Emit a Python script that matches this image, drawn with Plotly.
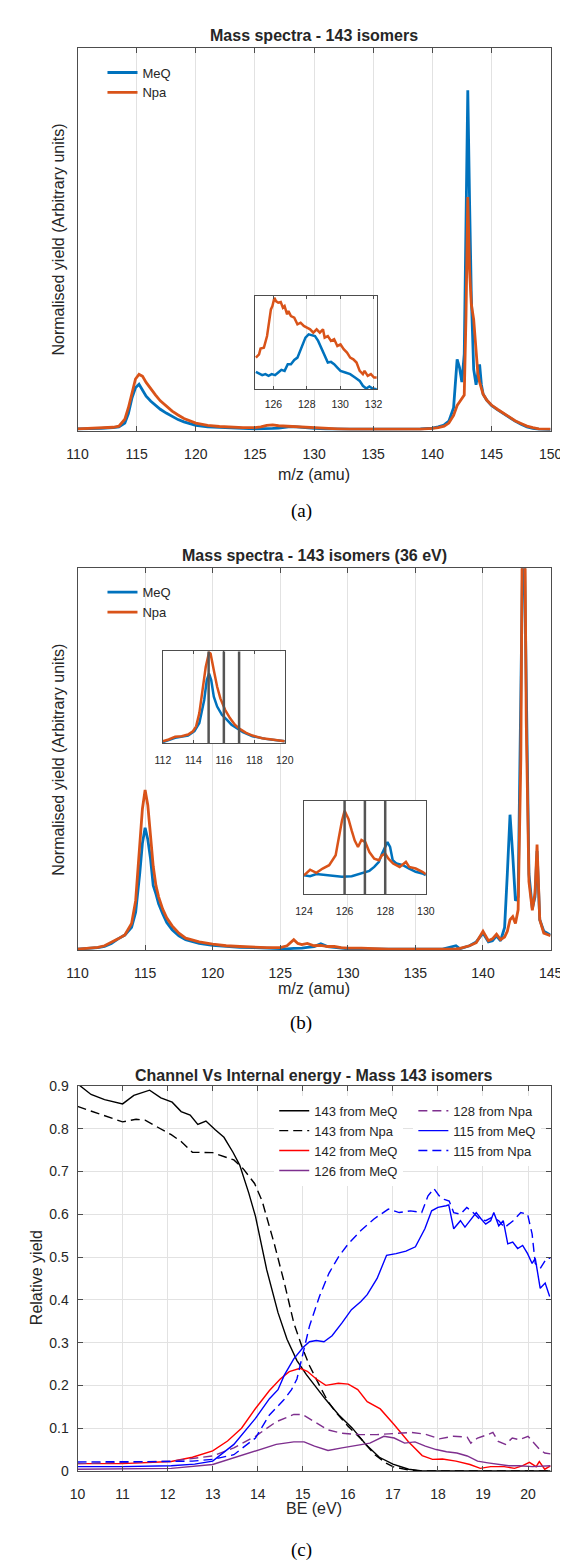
import plotly.graph_objects as go

# ---------------- data: panel (a) ----------------
a_mz = [110, 111, 112, 113, 113.5, 114, 114.3, 114.6, 114.9, 115.2, 115.5, 115.8, 116.2, 116.6,
        117, 117.5, 118, 118.5, 119, 120, 121, 122, 123, 124, 125, 125.5, 126, 126.5, 127,
        127.5, 128, 128.5, 129, 130, 131, 132, 133, 134, 135, 136, 137, 138, 139, 140,
        140.5, 141, 141.4, 141.8, 142.0, 142.1, 142.3, 142.5, 142.7, 142.85, 143.0, 143.15,
        143.3, 143.5, 143.7, 143.85, 144.0, 144.15, 144.3, 144.6, 145, 145.5, 146, 146.5,
        147, 147.5, 148, 148.5, 149, 150]
a_meq = [0.005, 0.005, 0.006, 0.008, 0.01, 0.02, 0.045, 0.085, 0.112, 0.121, 0.104, 0.09, 0.077,
         0.066, 0.056, 0.046, 0.037, 0.029, 0.023, 0.014, 0.01, 0.008, 0.007, 0.006, 0.005,
         0.005, 0.005, 0.006, 0.007, 0.009, 0.011, 0.01, 0.008, 0.006, 0.005, 0.004, 0.004,
         0.004, 0.004, 0.004, 0.004, 0.004, 0.005, 0.007, 0.01, 0.015, 0.025, 0.06, 0.15,
         0.186, 0.165, 0.127, 0.2, 0.6, 0.889, 0.6, 0.35, 0.16, 0.12, 0.15, 0.173, 0.12,
         0.095, 0.08, 0.066, 0.055, 0.045, 0.034, 0.025, 0.017, 0.01, 0.006, 0.004, 0.003]
a_npa = [0.005, 0.006, 0.007, 0.009, 0.012, 0.03, 0.06, 0.1, 0.135, 0.147, 0.142, 0.126, 0.108,
         0.093, 0.078, 0.064, 0.051, 0.041, 0.032, 0.02, 0.014, 0.011, 0.009, 0.008, 0.008,
         0.01, 0.014, 0.015, 0.013, 0.012, 0.011, 0.01, 0.009, 0.008, 0.006, 0.005, 0.004,
         0.004, 0.004, 0.004, 0.004, 0.004, 0.004, 0.006, 0.008, 0.012, 0.02, 0.04, 0.058,
         0.066, 0.075, 0.083, 0.093, 0.3, 0.61, 0.42, 0.33, 0.29, 0.2, 0.15, 0.127, 0.11,
         0.095, 0.08, 0.067, 0.056, 0.046, 0.035, 0.026, 0.019, 0.012, 0.008, 0.005, 0.004]

# inset of panel (a)
ia_mz_npa = [124.95, 125.14, 125.23, 125.43, 125.62, 125.75, 125.85, 125.94, 126.06, 126.15,
             126.29, 126.44, 126.57, 126.67, 126.82, 126.9, 127.05, 127.25, 127.44, 127.63,
             127.82, 128.01, 128.2, 128.39, 128.59, 128.78, 128.97, 129.07, 129.26, 129.45,
             129.64, 129.83, 130.02, 130.21, 130.41, 130.6, 130.79, 130.98, 131.17, 131.36,
             131.46, 131.65, 131.84, 132.03, 132.19]
ia_npa = [0.339, 0.375, 0.436, 0.446, 0.571, 0.75, 0.857, 0.893, 0.982, 0.946, 0.929, 0.936,
          0.875, 0.893, 0.804, 0.839, 0.786, 0.768, 0.696, 0.714, 0.679, 0.661, 0.643, 0.607,
          0.643, 0.607, 0.643, 0.554, 0.571, 0.518, 0.536, 0.464, 0.482, 0.429, 0.393, 0.339,
          0.321, 0.286, 0.196, 0.161, 0.196, 0.143, 0.161, 0.125, 0.125]
ia_mz_meq = [124.95, 125.14, 125.33, 125.52, 125.71, 125.9, 126.1, 126.29, 126.48, 126.67,
             126.86, 127.05, 127.25, 127.44, 127.63, 127.82, 127.92, 128.11, 128.3, 128.49,
             128.68, 128.87, 129.07, 129.26, 129.45, 129.64, 129.83, 130.02, 130.31, 130.6,
             130.89, 131.17, 131.36, 131.56, 131.75, 131.94, 132.19]
ia_meq = [0.186, 0.171, 0.15, 0.161, 0.143, 0.161, 0.15, 0.179, 0.207, 0.196, 0.268, 0.268,
          0.314, 0.339, 0.429, 0.518, 0.554, 0.589, 0.579, 0.571, 0.518, 0.446, 0.357, 0.286,
          0.293, 0.268, 0.232, 0.196, 0.179, 0.161, 0.125, 0.089, 0.036, 0.007, 0.029, 0.007, 0.0]

# ---------------- data: panel (b) ----------------
b_mz = [110, 110.5, 111, 111.5, 112, 112.5, 113, 113.5, 114, 114.3, 114.6, 114.8, 115.0, 115.2,
        115.4, 115.6, 115.8, 116.0, 116.3, 116.6, 117, 117.5, 118, 118.5, 119, 120, 121, 122,
        123, 124, 125, 125.5, 126, 126.3, 126.6, 127, 127.5, 128, 128.5, 129, 129.5, 130, 131,
        132, 133, 134, 135, 136, 137, 138, 138.3, 139, 139.5, 140, 140.4, 140.7, 141, 141.3,
        141.6, 141.8, 142.0, 142.2, 142.4, 142.6, 142.8, 143.0, 143.2, 143.4, 143.65, 143.85,
        144.0, 144.2, 144.5, 145]
b_meq = [0.003, 0.004, 0.005, 0.007, 0.01, 0.018, 0.03, 0.04, 0.06, 0.1, 0.2, 0.28, 0.321, 0.29,
         0.24, 0.17, 0.148, 0.122, 0.096, 0.073, 0.054, 0.038, 0.028, 0.022, 0.018, 0.013, 0.01,
         0.008, 0.007, 0.006, 0.004, 0.004, 0.005, 0.005, 0.006, 0.008, 0.01, 0.017, 0.01,
         0.008, 0.006, 0.004, 0.004, 0.003, 0.003, 0.003, 0.003, 0.003, 0.003, 0.012, 0.004,
         0.012, 0.022, 0.045, 0.022, 0.025, 0.038, 0.025, 0.06, 0.2, 0.355, 0.25, 0.13, 0.14,
         0.7, 1.2, 0.7, 0.2, 0.11, 0.14, 0.26, 0.08, 0.05, 0.04]
b_npa = [0.003, 0.005, 0.006, 0.008, 0.012, 0.02, 0.03, 0.04, 0.07, 0.13, 0.26, 0.37, 0.42,
         0.38, 0.3, 0.22, 0.17, 0.14, 0.108, 0.085, 0.064, 0.045, 0.032, 0.026, 0.022, 0.016,
         0.012, 0.01, 0.008, 0.007, 0.007, 0.012, 0.028, 0.018, 0.015, 0.018, 0.012, 0.013,
         0.01, 0.01, 0.007, 0.006, 0.006, 0.004, 0.003, 0.003, 0.003, 0.003, 0.003, 0.004,
         0.005, 0.012, 0.02, 0.05, 0.025, 0.03, 0.042, 0.028, 0.035, 0.05, 0.08, 0.088, 0.07,
         0.106, 0.5, 1.6, 0.6, 0.18, 0.105, 0.15, 0.277, 0.08, 0.045, 0.038]

# inset 1 of panel (b)
ib1_mz_npa = [112.0, 112.38, 112.8, 113.23, 113.65, 113.97, 114.18, 114.39, 114.6, 114.81,
              115.03, 115.13, 115.34, 115.56, 115.77, 116.08, 116.4, 116.72, 117.04, 117.46,
              117.88, 118.52, 119.15, 120.0]
ib1_npa = [0.025, 0.043, 0.072, 0.079, 0.097, 0.133, 0.186, 0.33, 0.58, 0.83, 0.99, 0.975,
           0.796, 0.616, 0.49, 0.366, 0.276, 0.204, 0.158, 0.115, 0.086, 0.057, 0.043, 0.025]
ib1_mz_meq = [112.0, 112.8, 113.65, 114.07, 114.39, 114.71, 114.88, 115.03, 115.17, 115.34,
              115.56, 115.87, 116.19, 116.5, 116.83, 117.25, 117.88, 118.73, 120.0]
ib1_meq = [0.014, 0.061, 0.086, 0.133, 0.222, 0.473, 0.688, 0.76, 0.688, 0.509, 0.401, 0.312,
           0.258, 0.204, 0.168, 0.122, 0.079, 0.05, 0.025]
ib1_marks = [115, 116, 117]

# inset 2 of panel (b)
ib2_mz_npa = [124.0, 124.3, 124.61, 124.92, 125.24, 125.56, 125.72, 125.87, 126.0, 126.19,
              126.35, 126.5, 126.66, 126.83, 127.02, 127.22, 127.46, 127.69, 127.84, 128.0,
              128.16, 128.39, 128.71, 129.02, 129.18, 129.5, 129.83, 130.0]
ib2_npa = [0.2, 0.26, 0.227, 0.273, 0.309, 0.415, 0.61, 0.787, 0.894, 0.805, 0.68, 0.574, 0.504,
           0.58, 0.557, 0.45, 0.379, 0.362, 0.415, 0.433, 0.379, 0.326, 0.29, 0.344, 0.29,
           0.273, 0.238, 0.213]
ib2_mz_meq = [124.0, 124.3, 124.61, 125.24, 125.87, 126.35, 126.66, 126.98, 127.22, 127.46,
              127.69, 127.84, 128.0, 128.11, 128.24, 128.37, 128.56, 128.87, 129.18, 129.5,
              129.83, 130.0]
ib2_meq = [0.2, 0.19, 0.213, 0.195, 0.184, 0.19, 0.213, 0.238, 0.248, 0.29, 0.344, 0.433, 0.504,
           0.557, 0.504, 0.362, 0.326, 0.309, 0.273, 0.238, 0.22, 0.202]
ib2_marks = [126, 127, 128]

# ---------------- data: panel (c) ----------------
c_be_143_meq = [10.0, 10.3, 10.6, 11.0, 11.25, 11.6, 11.85, 12.1, 12.3, 12.5, 12.67, 12.85, 13.05,
                13.25, 13.45, 13.6, 13.8, 13.95, 14.2, 14.45, 14.65, 14.87, 15.08, 15.3, 15.5,
                15.8, 16.1, 16.4, 16.7, 17.0, 17.35, 17.65, 18.5, 19.5, 20.5]
c_143_meq = [0.905, 0.88, 0.868, 0.858, 0.878, 0.89, 0.872, 0.862, 0.84, 0.832, 0.81, 0.818, 0.798,
             0.78, 0.745, 0.715, 0.65, 0.595, 0.47, 0.37, 0.308, 0.258, 0.225, 0.195, 0.168,
             0.131, 0.1, 0.062, 0.032, 0.016, 0.004, 0.0, 0.0, 0.0, 0.0]
c_be_143_npa = [10.0, 10.45, 11.0, 11.3, 11.5, 11.77, 12.08, 12.3, 12.55, 13.0, 13.25, 13.47, 13.68,
                13.93, 14.1, 14.37, 14.59, 14.8, 15.0, 15.15, 15.37, 15.55, 15.72, 16.0, 16.3,
                16.6, 16.85, 17.0, 17.3, 17.6, 18.5, 19.5, 20.5]
c_143_npa = [0.852, 0.835, 0.816, 0.822, 0.82, 0.804, 0.786, 0.77, 0.745, 0.744, 0.735, 0.727,
             0.706, 0.672, 0.63, 0.53, 0.44, 0.346, 0.285, 0.246, 0.2, 0.164, 0.139, 0.105,
             0.074, 0.038, 0.018, 0.01, 0.003, 0.0, 0.0, 0.0, 0.0]
c_be_142_meq = [10.0, 11.0, 12.08, 12.55, 13.0, 13.33, 13.64, 13.95, 14.26, 14.5, 14.7, 14.94, 15.1,
                15.3, 15.51, 15.79, 16.01, 16.22, 16.43, 16.72, 17.03, 17.34, 17.65, 17.88, 18.1,
                18.4, 18.71, 18.94, 19.17, 19.47, 19.7, 19.87, 20.03, 20.18, 20.25, 20.37, 20.5]
c_142_meq = [0.017, 0.017, 0.022, 0.032, 0.047, 0.07, 0.1, 0.146, 0.188, 0.215, 0.232, 0.24, 0.233,
             0.215, 0.2, 0.205, 0.203, 0.19, 0.162, 0.145, 0.108, 0.069, 0.036, 0.027, 0.028,
             0.023, 0.015, 0.006, 0.01, 0.01, 0.006, 0.012, 0.02, 0.01, 0.022, 0.004, 0.012]
c_be_126_meq = [10.0, 12.08, 13.0, 13.47, 13.95, 14.41, 14.8, 15.03, 15.26, 15.56, 15.87, 16.18,
                16.49, 16.8, 17.03, 17.26, 17.49, 17.72, 17.96, 18.19, 18.42, 18.65, 18.88,
                19.11, 19.34, 19.57, 19.8, 20.1, 20.5]
c_126_meq = [0.004, 0.006, 0.015, 0.031, 0.046, 0.062, 0.068, 0.068, 0.058, 0.048, 0.054, 0.06,
             0.065, 0.081, 0.077, 0.065, 0.068, 0.058, 0.05, 0.045, 0.042, 0.035, 0.023, 0.019,
             0.015, 0.012, 0.012, 0.01, 0.012]
c_be_128_npa = [10.0, 12.08, 13.0, 13.47, 13.95, 14.41, 14.8, 14.99, 15.26, 15.56, 15.87, 16.26,
                16.64, 17.03, 17.42, 17.72, 18.03, 18.34, 18.65, 18.73, 18.88, 19.11, 19.22,
                19.34, 19.5, 19.65, 19.8, 20.0, 20.1, 20.26, 20.37, 20.5]
c_128_npa = [0.017, 0.023, 0.035, 0.054, 0.081, 0.115, 0.132, 0.132, 0.115, 0.096, 0.088, 0.085,
             0.085, 0.088, 0.09, 0.086, 0.075, 0.081, 0.079, 0.065, 0.077, 0.085, 0.09, 0.069,
             0.062, 0.077, 0.073, 0.081, 0.069, 0.05, 0.042, 0.04]
c_be_115_meq = [10.0, 11.0, 12.08, 12.6, 13.0, 13.47, 13.95, 14.26, 14.45, 14.59, 14.8, 15.01,
                15.15, 15.3, 15.47, 15.65, 15.87, 16.08, 16.29, 16.43, 16.65, 16.86, 17.07,
                17.29, 17.5, 17.71, 17.86, 18.0, 18.18, 18.24, 18.35, 18.5, 18.6, 18.74, 18.85,
                18.96, 19.06, 19.17, 19.24, 19.35, 19.45, 19.55, 19.66, 19.77, 19.88, 19.99,
                20.09, 20.16, 20.27, 20.38, 20.48]
c_115_meq = [0.01, 0.01, 0.012, 0.016, 0.023, 0.062, 0.123, 0.169, 0.19, 0.224, 0.262, 0.289,
             0.302, 0.305, 0.302, 0.316, 0.346, 0.377, 0.396, 0.412, 0.45, 0.504, 0.508, 0.514,
             0.524, 0.566, 0.608, 0.616, 0.62, 0.622, 0.566, 0.585, 0.57, 0.589, 0.604, 0.589,
             0.577, 0.585, 0.604, 0.573, 0.585, 0.531, 0.535, 0.52, 0.527, 0.508, 0.485, 0.497,
             0.427, 0.439, 0.408]
c_be_115_npa = [10.0, 11.0, 12.0, 12.55, 13.0, 13.47, 13.95, 14.26, 14.57, 14.75, 14.87, 15.01,
                15.15, 15.37, 15.58, 15.79, 16.01, 16.29, 16.58, 16.9, 17.14, 17.39, 17.64,
                17.78, 17.91, 18.03, 18.14, 18.25, 18.35, 18.5, 18.64, 18.78, 18.92, 19.06,
                19.2, 19.35, 19.48, 19.67, 19.84, 19.99, 20.09, 20.16, 20.27, 20.41, 20.5]
c_115_npa = [0.021, 0.021, 0.022, 0.023, 0.027, 0.038, 0.077, 0.131, 0.165, 0.19, 0.215, 0.277,
             0.339, 0.408, 0.462, 0.5, 0.531, 0.562, 0.589, 0.612, 0.604, 0.608, 0.604, 0.643,
             0.66, 0.643, 0.635, 0.631, 0.604, 0.6, 0.616, 0.604, 0.589, 0.585, 0.593, 0.585,
             0.569, 0.585, 0.604, 0.6, 0.554, 0.485, 0.473, 0.497, 0.497]

a_ticks = [110, 115, 120, 125, 130, 135, 140, 145, 150]
b_ticks = [110, 115, 120, 125, 130, 135, 140, 145]
c_xticks = [10, 11, 12, 13, 14, 15, 16, 17, 18, 19, 20]
c_yticks = [0, 0.1, 0.2, 0.3, 0.4, 0.5, 0.6, 0.7, 0.8, 0.9]
ia_ticks = [126, 128, 130, 132]
ib1_ticks = [112, 114, 116, 118, 120]
ib2_ticks = [124, 126, 128, 130]

# ---------------- styling ----------------
W, H = 568, 1562
MEQ, NPA = '#0072BD', '#D95319'
AXC = '#4d4d4d'
GRID = '#e2e2e2'
TXT = '#262626'
FONT = 'Liberation Sans, Arial, Helvetica, sans-serif'
SERIF = 'Liberation Serif, DejaVu Serif, serif'


def px(p):
    return p / W


def py(p):
    return 1 - p / H


def xaxis(dom, anchor, rng, ticks, size=14, grid=True, ticklen=5, standoff=10):
    return dict(domain=dom, anchor=anchor, range=rng, tickmode='array', tickvals=ticks,
                ticktext=[str(t) for t in ticks], showgrid=grid, gridcolor=GRID, gridwidth=1,
                zeroline=False, showline=True, linecolor=AXC, linewidth=1, mirror='ticks',
                ticks='inside', ticklen=ticklen, tickcolor=AXC, ticklabelstandoff=int(standoff),
                tickfont=dict(family=FONT, size=size, color=TXT))


def yaxis_plain(dom, anchor, rng):
    return dict(domain=dom, anchor=anchor, range=rng, showticklabels=False, showgrid=False,
                zeroline=False, showline=True, linecolor=AXC, linewidth=1, mirror=True, ticks='')


fig = go.Figure()

LW = 2.8
# panel (a)
fig.add_trace(go.Scatter(x=a_mz, y=a_meq, name='MeQ', mode='lines', line=dict(color=MEQ, width=LW),
                         xaxis='x', yaxis='y', legend='legend'))
fig.add_trace(go.Scatter(x=a_mz, y=a_npa, name='Npa', mode='lines', line=dict(color=NPA, width=LW),
                         xaxis='x', yaxis='y', legend='legend'))
# panel (b)
fig.add_trace(go.Scatter(x=b_mz, y=b_meq, name='MeQ', mode='lines', line=dict(color=MEQ, width=LW),
                         xaxis='x2', yaxis='y2', legend='legend2'))
fig.add_trace(go.Scatter(x=b_mz, y=b_npa, name='Npa', mode='lines', line=dict(color=NPA, width=LW),
                         xaxis='x2', yaxis='y2', legend='legend2'))
# panel (c)
cw = 1.4
dash = '9px,5px'
c_series = [
    (c_be_143_meq, c_143_meq, '143 from MeQ', '#000000', 'solid', 'legend3'),
    (c_be_143_npa, c_143_npa, '143 from Npa', '#000000', dash, 'legend3'),
    (c_be_142_meq, c_142_meq, '142 from MeQ', '#FF0000', 'solid', 'legend3'),
    (c_be_126_meq, c_126_meq, '126 from MeQ', '#7E2F8E', 'solid', 'legend3'),
    (c_be_128_npa, c_128_npa, '128 from Npa', '#7E2F8E', dash, 'legend4'),
    (c_be_115_meq, c_115_meq, '115 from MeQ', '#0000FF', 'solid', 'legend4'),
    (c_be_115_npa, c_115_npa, '115 from Npa', '#0000FF', dash, 'legend4'),
]
for xs, ys, nm, col, ds, lg in c_series:
    fig.add_trace(go.Scatter(x=xs, y=ys, name=nm, mode='lines',
                             line=dict(color=col, width=cw, dash=ds),
                             xaxis='x3', yaxis='y3', legend=lg))
# insets
IW = 2.5
fig.add_trace(go.Scatter(x=ia_mz_meq, y=ia_meq, mode='lines', line=dict(color=MEQ, width=IW),
                         xaxis='x4', yaxis='y4', showlegend=False))
fig.add_trace(go.Scatter(x=ia_mz_npa, y=ia_npa, mode='lines', line=dict(color=NPA, width=IW),
                         xaxis='x4', yaxis='y4', showlegend=False))
fig.add_trace(go.Scatter(x=ib1_mz_meq, y=ib1_meq, mode='lines', line=dict(color=MEQ, width=IW),
                         xaxis='x5', yaxis='y5', showlegend=False))
fig.add_trace(go.Scatter(x=ib1_mz_npa, y=ib1_npa, mode='lines', line=dict(color=NPA, width=IW),
                         xaxis='x5', yaxis='y5', showlegend=False))
fig.add_trace(go.Scatter(x=ib2_mz_meq, y=ib2_meq, mode='lines', line=dict(color=MEQ, width=IW),
                         xaxis='x6', yaxis='y6', showlegend=False))
fig.add_trace(go.Scatter(x=ib2_mz_npa, y=ib2_npa, mode='lines', line=dict(color=NPA, width=IW),
                         xaxis='x6', yaxis='y6', showlegend=False))

shapes = []
for v in ib1_marks:
    shapes.append(dict(type='line', xref='x5', yref='y5 domain', x0=v, x1=v, y0=0, y1=1,
                       line=dict(color='#555555', width=2.5)))
for v in ib2_marks:
    shapes.append(dict(type='line', xref='x6', yref='y6 domain', x0=v, x1=v, y0=0, y1=1,
                       line=dict(color='#555555', width=2.5)))

LEGF = dict(family=FONT, size=13, color=TXT)
xdom = [px(61), px(554)]
layout = dict(
    width=W, height=H, margin=dict(l=0, r=0, t=0, b=0),
    paper_bgcolor='white', plot_bgcolor='white',
    font=dict(family=FONT, color=TXT),
    xaxis=xaxis(xdom, 'y', [110, 150], a_ticks),
    yaxis=yaxis_plain([py(419), py(32)], 'x', [0, 1]),
    xaxis2=xaxis(xdom, 'y2', [110, 145], b_ticks),
    yaxis2=yaxis_plain([py(944), py(558)], 'x2', [0, 1]),
    xaxis3=xaxis(xdom, 'y3', [10, 20.5], c_xticks),
    yaxis3=dict(domain=[py(1470), py(1081)], anchor='x3', range=[0, 0.9], tickmode='array',
                tickvals=c_yticks, ticktext=[('%g' % t) for t in c_yticks], showgrid=True,
                gridcolor=GRID, zeroline=False, showline=True, linecolor=AXC, linewidth=1,
                mirror='ticks', ticks='inside', ticklen=5, tickcolor=AXC, ticklabelstandoff=5,
                tickfont=dict(family=FONT, size=14, color=TXT)),
    xaxis4=xaxis([px(246), px(373)], 'y4', [124.9, 132.2], ia_ticks, size=10.5, ticklen=3, standoff=5),
    yaxis4=yaxis_plain([py(377), py(283)], 'x4', [0, 1]),
    xaxis5=xaxis([px(150), px(277)], 'y5', [112, 120], ib1_ticks, size=10.5, ticklen=3, standoff=7),
    yaxis5=yaxis_plain([py(735), py(642)], 'x5', [0, 1.0]),
    xaxis6=xaxis([px(297), px(424)], 'y6', [124, 130], ib2_ticks, size=10.5, ticklen=3, standoff=7),
    yaxis6=yaxis_plain([py(887), py(793)], 'x6', [0, 1.0]),
    legend=dict(x=px(87), y=py(42), xanchor='left', yanchor='top', bgcolor='rgba(0,0,0,0)',
                font=LEGF, tracegroupgap=0),
    legend2=dict(x=px(87), y=py(567), xanchor='left', yanchor='top', bgcolor='rgba(0,0,0,0)',
                 font=LEGF, tracegroupgap=0),
    legend3=dict(x=px(266), y=py(1091), xanchor='left', yanchor='top', bgcolor='white',
                 font=LEGF, tracegroupgap=0),
    legend4=dict(x=px(411), y=py(1091), xanchor='left', yanchor='top', bgcolor='white',
                 font=LEGF, tracegroupgap=0),
    shapes=shapes,
)

ann = []


def text(x, y, s, size, bold=False, angle=0, family=FONT):
    ann.append(dict(x=px(x), y=py(y), xref='paper', yref='paper', text=('<b>%s</b>' % s) if bold else s,
                    showarrow=False, xanchor='center', yanchor='middle', textangle=angle,
                    font=dict(family=family, size=size, color=TXT if family == FONT else '#000')))


text(307.5, 20, 'Mass spectra - 143 isomers', 16, bold=True)
text(307.5, 545, 'Mass spectra - 143 isomers (36 eV)', 16, bold=True)
text(307.5, 1070, 'Channel Vs Internal energy - Mass 143 isomers', 16, bold=True)
text(307.5, 463, 'm/z (amu)', 16)
text(307.5, 983, 'm/z (amu)', 16)
text(307.5, 1508, 'BE (eV)', 16)
text(41, 225.5, 'Normalised yield (Arbitrary units)', 16, angle=-90)
text(41, 751, 'Normalised yield (Arbitrary units)', 16, angle=-90)
text(19, 1275, 'Relative yield', 16, angle=-90)
text(294, 500, '(a)', 19, family=SERIF)
text(294, 1017, '(b)', 19, family=SERIF)
text(294, 1550, '(c)', 19, family=SERIF)
layout['annotations'] = ann

fig.update_layout(**layout)
fig.write_html('out.html')
